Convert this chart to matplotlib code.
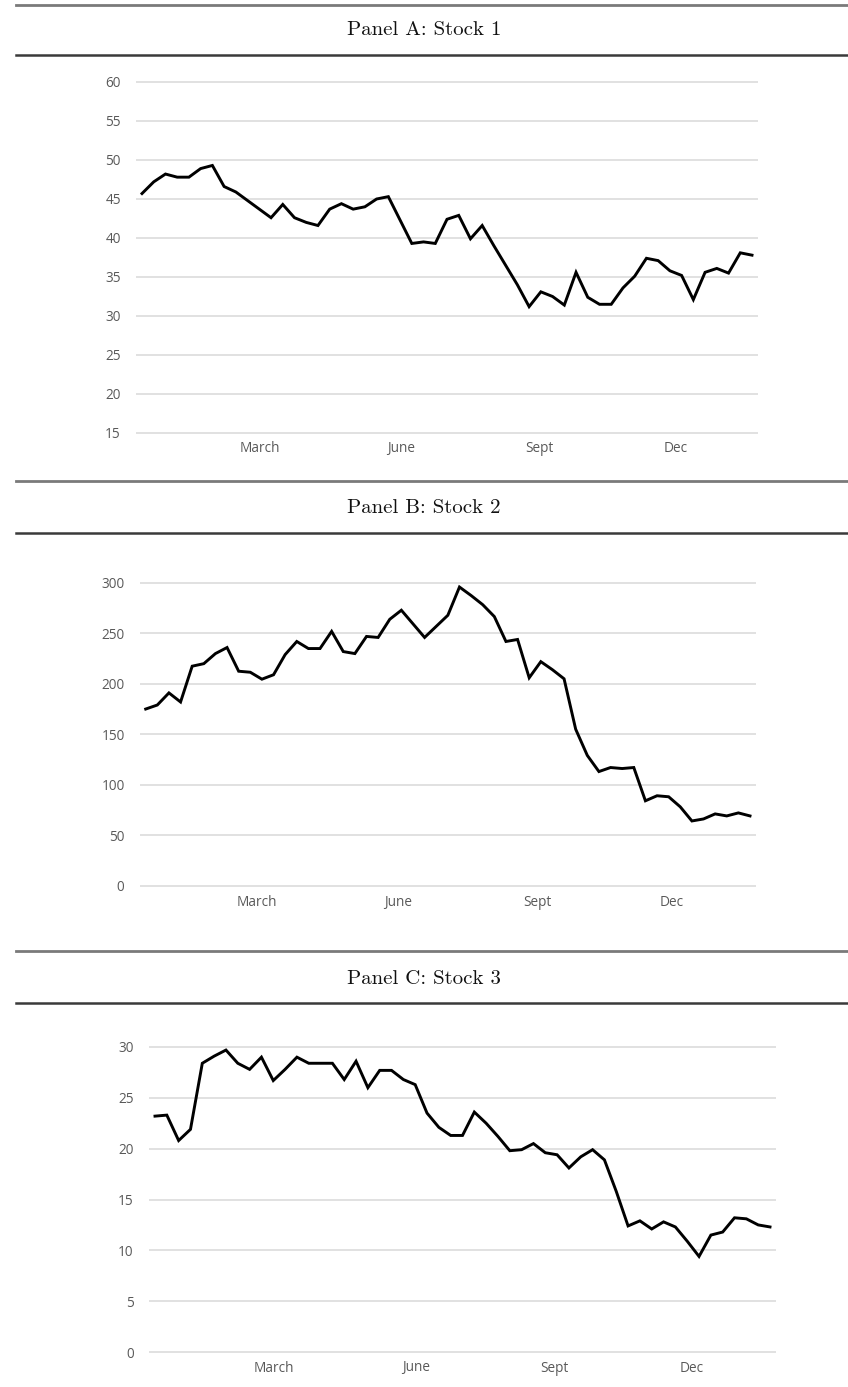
import matplotlib
matplotlib.use("Agg")
import matplotlib.pyplot as plt
from matplotlib.lines import Line2D

# ---------------- data ----------------
month_labels = ["March", "June", "Sept", "Dec"]

stock1 = [45.7, 47.2, 48.2, 47.8, 47.8, 48.9, 49.3, 46.6, 45.9, 44.8,
          43.7, 42.6, 44.3, 42.6, 42.0, 41.6, 43.7, 44.4, 43.7, 44.0,
          45.0, 45.3, 42.3, 39.3, 39.5, 39.3, 42.4, 42.9, 39.9, 41.6,
          39.0, 36.5, 34.0, 31.2, 33.1, 32.5, 31.4, 35.6, 32.4, 31.5,
          31.5, 33.6, 35.1, 37.4, 37.1, 35.8, 35.2, 32.1, 35.6, 36.1,
          35.5, 38.1, 37.8]

stock2 = [175, 179, 191, 182, 217.5, 220, 230, 236, 212.5, 211.5,
          204.6, 209, 229, 242, 235, 235, 252, 232, 230, 247,
          246, 264, 273, 259.5, 246, 257, 268, 296, 287.6, 278.5,
          266.7, 242, 244, 206, 222, 214, 205, 155, 129, 113,
          117, 116, 117, 84, 89, 88, 78, 64, 66, 71,
          69, 72, 69]

stock3 = [23.2, 23.3, 20.8, 21.9, 28.4, 29.1, 29.7, 28.4, 27.8, 29.0,
          26.7, 27.8, 29.0, 28.4, 28.4, 28.4, 26.8, 28.6, 26.0, 27.7,
          27.7, 26.8, 26.3, 23.5, 22.1, 21.3, 21.3, 23.6, 22.5, 21.2,
          19.8, 19.9, 20.5, 19.6, 19.4, 18.1, 19.2, 19.9, 18.9, 15.8,
          12.4, 12.9, 12.1, 12.8, 12.3, 10.9, 9.4, 11.5, 11.8, 13.2,
          13.1, 12.5, 12.3]

titles = ["Panel A: Stock 1", "Panel B: Stock 2", "Panel C: Stock 3"]
yticks_1 = [15, 20, 25, 30, 35, 40, 45, 50, 55, 60]
yticks_2 = [0, 50, 100, 150, 200, 250, 300]
yticks_3 = [0, 5, 10, 15, 20, 25, 30]
month_pos_1 = [10.05, 22.05, 33.9, 45.5]
month_pos_2 = [9.6, 21.7, 33.7, 45.3]
month_pos_3 = [10.05, 22.05, 33.8, 45.4]

# ---------------- layout ----------------
W, H = 848, 1387
fig = plt.figure(figsize=(W / 100, H / 100), dpi=100)
fig.patch.set_facecolor("white")

TICK_FONT = ["Open Sans", "DejaVu Sans"]
TICK_COLOR = "#595959"
GRID_COLOR = "#dcdcdc"
TICK_SIZE = 9.8


def add_panel(values, yticks, mpos, xa, xb, ytop, ybot, label_dy):
    n = len(values)
    step = (xb - xa) / (n - 1)
    xlo, xhi = -0.5, n - 0.5
    left_px = xa + xlo * step
    right_px = xa + xhi * step
    ymin, ymax = yticks[0], yticks[-1]
    ppu = (ybot - ytop) / (ymax - ymin)
    pad = 4 / ppu
    top_px = ytop - 4
    bot_px = ybot + 4
    ax = fig.add_axes([left_px / W, 1 - bot_px / H,
                       (right_px - left_px) / W, (bot_px - top_px) / H])
    ax.set_xlim(xlo, xhi)
    ax.set_ylim(ymin - pad, ymax + pad)
    ax.plot(range(n), values, color="black", lw=2.1,
            solid_joinstyle="miter", zorder=3)
    ax.set_yticks(yticks)
    ax.set_yticklabels([str(t) for t in yticks])
    ax.grid(axis="y", color=GRID_COLOR, lw=1.2, zorder=0)
    ax.set_xticks([])
    for s in ax.spines.values():
        s.set_visible(False)
    ax.tick_params(axis="y", length=0, pad=11, labelsize=TICK_SIZE,
                   labelcolor=TICK_COLOR)
    for lab in ax.get_yticklabels():
        lab.set_family(TICK_FONT)
    for p, m in zip(mpos, month_labels):
        xpx = xa + p * step
        fig.text(xpx / W, 1 - (ybot + label_dy) / H, m, ha="center",
                 va="center", fontsize=TICK_SIZE, color=TICK_COLOR,
                 family=TICK_FONT)
    return ax


def add_header(title, y_top_rule, y_title, y_bot_rule):
    fig.add_artist(Line2D([16 / W, 1], [1 - y_top_rule / H] * 2,
                          color="#7a7a7a", lw=2.0))
    fig.add_artist(Line2D([16 / W, 1], [1 - y_bot_rule / H] * 2,
                          color="#3a3a3a", lw=1.8))
    fig.text(0.5, 1 - y_title / H, title, ha="center", va="center",
             fontsize=15, family=["cmr10", "DejaVu Serif"], color="#111111")


add_header(titles[0], 5, 30, 55)
add_panel(stock1, yticks_1, month_pos_1, 142, 752, 82, 433, 16)

add_header(titles[1], 481, 508, 533)
add_panel(stock2, yticks_2, month_pos_2, 145.7, 750, 583, 885.5, 17)

add_header(titles[2], 951, 979, 1003)
add_panel(stock3, yticks_3, month_pos_3, 155, 770, 1047, 1352, 16)

fig.savefig("out.png", dpi=100, facecolor="white")
